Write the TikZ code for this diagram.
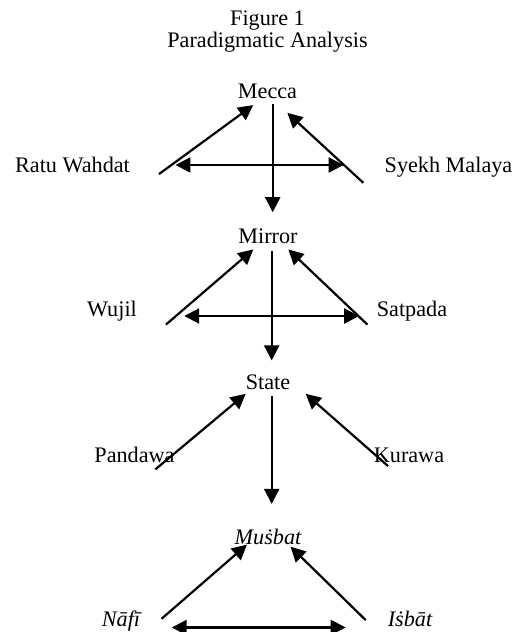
\documentclass[tikz,border=0pt]{standalone}
\usepackage{fontspec}
\setmainfont{Liberation Serif}
\usetikzlibrary{arrows.meta}

\begin{document}
\begin{tikzpicture}[x=0.5pt, y=-0.5pt, line width=1.1pt,
    every node/.style = {inner sep=0pt, anchor=base, font=\fontsize{11.1pt}{13pt}\selectfont},
    word/.style = {text height=7.5pt, text depth=0pt},
    arr/.style = {-{Triangle[length=7.5pt,width=7.5pt]}},
    dbl/.style = {{Triangle[length=7.5pt,width=7.5pt]}-{Triangle[length=7.5pt,width=7.5pt]}}]
      \useasboundingbox (0,0) rectangle (528,632);
      \node (fig) at (267.5,25) {Figure 1};
      \node (title) at (267.5,47) {Paradigmatic Analysis};
      % Mecca
      \node[word] (mecca) at (267.5,98) {Mecca};
      \node[word] (ratu) at (72.5,172) {Ratu Wahdat};
      \node[word] (syekh) at (448.5,172) {Syekh Malaya};
      % Mirror
      \node[word] (mirror) at (268,243) {Mirror};
      \node[word] (wujil) at (112,316) {Wujil};
      \node[word] (satpada) at (412,316) {Satpada};
      % State
      \node[word] (state) at (268,389) {State};
      \node[word] (pandawa) at (134.5,462) {Pandawa};
      \node[word] (kurawa) at (409,462) {Kurawa};
      % Musbat
      \node[word] (musbat) at (268,544) {\itshape Muṡbat};
      \node[word] (nafi) at (121,626) {\itshape Nāfī};
      \node[word] (isbat) at (410,626) {\itshape Iṡbāt};

      \draw[arr] ([shift={(5.2,5)}]mecca.south) -- ([shift={(4.7,-14.7)}]mirror.north);
      \draw[arr] ([shift={(28,1)}]ratu.south east) -- ([shift={(-14.2,6)}]mecca.south);
      \draw[arr] ([shift={(-20.3,9.7)}]syekh.south west) -- ([shift={(19.8,13.7)}]mecca.south);
      \draw[dbl] ([shift={(44.5,0.5)}]ratu.east) -- ([shift={(-40,0.5)}]syekh.west);

      \draw[arr] ([shift={(3.7,7)}]mirror.south) -- ([shift={(3.7,-12.5)}]state.north);
      \draw[arr] ([shift={(28,7.5)}]wujil.south east) -- ([shift={(-14.7,5.3)}]mirror.south);
      \draw[arr] ([shift={(-8.3,7.5)}]satpada.south west) -- ([shift={(20.3,5.3)}]mirror.south);
      \draw[dbl] ([shift={(46.3,7.5)}]wujil.east) -- ([shift={(-16.7,7.5)}]satpada.west);

      \draw[arr] ([shift={(3.7,6)}]state.south) -- ([shift={(3.7,-24)}]musbat.north);
      \draw[arr] ([shift={(-20.3,6.3)}]pandawa.south east) -- ([shift={(-22.3,3.7)}]state.south);
      \draw[arr] ([shift={(15.3,3)}]kurawa.south west) -- ([shift={(37.7,3.7)}]state.south);

      \draw[arr] ([shift={(20.3,-8.3)}]nafi.south east) -- ([shift={(-21,-0.5)}]musbat.south);
      \draw[arr] ([shift={(-21,-7)}]isbat.south west) -- ([shift={(22.5,1.5)}]musbat.south);
      \draw[dbl] ([shift={(30.5,9)}]nafi.east) -- ([shift={(-41,9)}]isbat.west);
  \end{tikzpicture}
\end{document}
